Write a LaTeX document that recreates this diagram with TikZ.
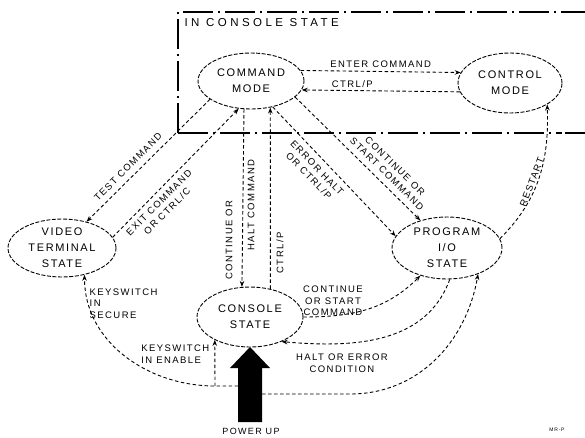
\documentclass[tikz,border=0pt]{standalone}
\usepackage{fontspec}
\setmainfont{Liberation Sans}[LetterSpace=15]
\usetikzlibrary{shapes.geometric,arrows.meta}
\begin{document}
\begin{tikzpicture}[x=1pt,y=-1pt,
  st/.style={ellipse, draw, line width=0.9pt, dash pattern=on 4pt off 1.6pt, inner sep=0pt},
  sttext/.style={align=center, font=\fontsize{11}{16}\selectfont, inner sep=0pt},
  conn/.style={line width=0.9pt, dash pattern=on 3.5pt off 2.5pt},
  arr/.style={-{Stealth[length=6pt,width=4.5pt]}},
  lbl/.style={font=\fontsize{9.5}{11.5}\selectfont, align=center, inner sep=1.5pt},
  boxl/.style={line width=1.5pt, dash pattern=on 30pt off 5pt on 2pt off 5pt}]
\useasboundingbox (0,0) rectangle (585,437);
\fill[white] (0,0) rectangle (585,437);
% console-state box
\draw[boxl] (178,133) -- (178,12) -- (585,12);
\draw[boxl] (178,133) -- (562,133);
\draw[line width=2.2pt] (565,133) -- (585,133);
\node[anchor=west, font=\fontsize{11.5}{14}\selectfont\addfontfeatures{LetterSpace=30}] (boxlbl) at (181,23) {IN CONSOLE STATE};
% states
\node[st, minimum width=106pt, minimum height=56pt] (cmd) at (251,81) {};
\node[sttext] (cmdt) at (cmd) {COMMAND\\MODE};
\node[st, minimum width=104pt, minimum height=60pt] (ctl) at (510,83) {};
\node[sttext] (ctlt) at (ctl) {CONTROL\\MODE};
\node[st, minimum width=108pt, minimum height=58pt] (vid) at (62,248) {};
\node[sttext] (vidt) at (vid) {VIDEO\\TERMINAL\\STATE};
\node[st, minimum width=110pt, minimum height=62pt] (prg) at (447,248) {};
\node[sttext] (prgt) at (prg) {PROGRAM\\I/O\\STATE};
\node[st, minimum width=106pt, minimum height=60pt] (con) at (250,317) {};
\node[sttext] (cont) at (con) {CONSOLE\\STATE};
% power-up arrow
\fill[black] (238,422) -- (238,368) -- (230,368) -- (250,347) -- (270,368) -- (262,368) -- (262,422) -- cycle;
\node[font=\fontsize{9}{10}\selectfont] (pwt) at (251,431) {POWER UP};
\coordinate (pwL) at (238,386);
\coordinate (pwJ) at (215,386);
\coordinate (pwR) at (262,394);
\coordinate (pwK) at (350,394);
% connectors
\draw[conn,arr] (cmd.12) -- node[lbl,above=2pt] (l1) {ENTER COMMAND} (ctl.168);
\draw[conn,arr] (ctl.190) -- node[lbl,above=1pt,pos=0.68] (l2) {CTRL/P} (cmd.-10);
\draw[conn,arr] (cmd.204) -- (vid.47);
\node[lbl,rotate=45] (l3) at (128,167) {TEST COMMAND};
\draw[conn,arr] (vid.12) -- (cmd.246);
\node[lbl,rotate=45] (l4) at (163,207) {EXIT COMMAND\\OR CTRL/C};
\draw[conn,arr] (cmd.256) -- (con.105);
\node[lbl,rotate=90] (l5a) at (229,240) {CONTINUE OR};
\node[lbl,rotate=90] (l5b) at (251,205) {HALT COMMAND};
\draw[conn,arr] (con.54) -- (cmd.-54);
\node[lbl,rotate=90] (l5c) at (280,253) {CTRL/P};
\draw[conn,arr] (cmd.-50) -- (prg.167);
\node[lbl,rotate=-46] (l6a) at (313,172) {ERROR HALT\\OR CTRL/P};
\draw[conn,arr] (cmd.-20) -- (prg.134);
\node[lbl,rotate=-44.5] (l6b) at (391,170) {CONTINUE OR\\START COMMAND};
\draw[conn,arr] (prg.10) to[out=45,in=-88] node[lbl,sloped,above,pos=0.45] (l7) {RESTART} (ctl.-30);
\draw[conn,arr] (con.0) to[out=0,in=225] (prg.226);
\node[lbl] (l8) at (333,301) {CONTINUE\\OR START\\COMMAND};
\draw[conn,arr] (prg.-85) to[out=-110,in=-5] (con.-38);
\node[lbl] (l9) at (342,363) {HALT OR ERROR\\CONDITION};
\draw[conn,arr] (pwL) -- (pwJ) to[out=180,in=-90] (vid.-50);
\draw[conn,arr] (pwJ) -- (con.213);
\draw[conn,arr] (pwR) -- (pwK) to[out=0,in=-100] (prg.-40);
\node[lbl, anchor=north west, align=left] (l10) at (88,287) {KEYSWITCH\\IN\\SECURE};
\node[lbl, anchor=east, align=left] (l12) at (211,354) {KEYSWITCH\\IN ENABLE};
\node[font=\fontsize{5}{6}\selectfont] (fig) at (557,430) {MR-P};
\end{tikzpicture}
\end{document}
